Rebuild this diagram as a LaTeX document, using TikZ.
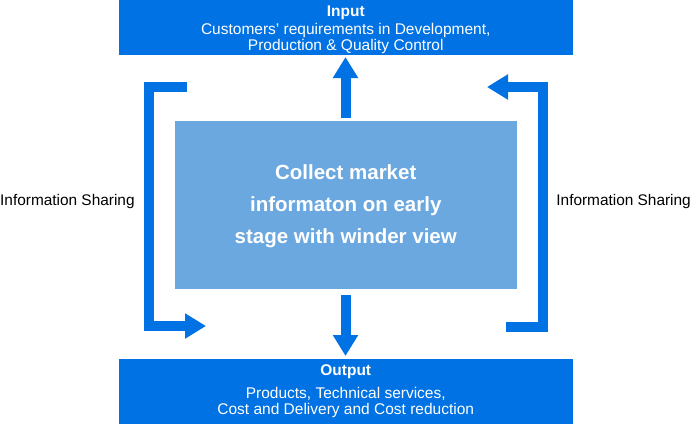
\documentclass[tikz,border=0pt]{standalone}
\usepackage{fontspec}
\setmainfont{Liberation Sans}
\usetikzlibrary{arrows.meta}
\definecolor{dblue}{RGB}{0,114,227}
\definecolor{lblue}{RGB}{108,168,224}
\tikzset{
  bluebox/.style={fill=dblue, draw=none, inner sep=0pt},
  bigarrow/.style={draw=dblue, line width=10pt, line join=miter, line cap=butt,
    -{Triangle[width=24pt,length=21pt]}},
  boxtext/.style={text=white, align=center, font=\fontsize{15.5}{16.5}\selectfont},
  sidetext/.style={text=black, font=\fontsize{15.4}{16}\selectfont, inner sep=0pt}
}
\begin{document}
\begin{tikzpicture}[x=1pt,y=-1pt]
\useasboundingbox (0,0) rectangle (691,424);
\fill[white] (0,0) rectangle (691,424);
% boxes
\fill[dblue] (118.5,0) rectangle (573,55);
\fill[dblue] (118.5,359) rectangle (573,424);
\fill[lblue] (174.5,121) rectangle (517,289);
\node[inner sep=0pt, minimum width=454.5pt, minimum height=55pt] (input) at (345.75,27.5) {};
\node[inner sep=0pt, minimum width=454.5pt, minimum height=65pt] (output) at (345.75,391.5) {};
\node[inner sep=0pt, minimum width=342.5pt, minimum height=168pt] (center) at (345.75,205) {};
% texts
\node[boxtext, font=\fontsize{15.5}{16}\selectfont\bfseries] (inT) at (345.75,13) {Input};
\node[boxtext] (inL) at (345.75,38.5) {Customers’ requirements in Development,\\Production \& Quality Control};
\node[boxtext, font=\fontsize{15.5}{16}\selectfont\bfseries] (outT) at (345.75,372) {Output};
\node[boxtext] (outL) at (345.75,402.5) {Products, Technical services,\\Cost and Delivery and Cost reduction};
\node[text=white, align=center, font=\fontsize{20.5}{32}\selectfont\bfseries] (cT) at (345.75,206) {Collect market\\informaton on early\\stage with winder view};
\node[sidetext, anchor=west] (lside) at (0,202) {Information Sharing};
\node[sidetext, anchor=east] (rside) at (691,202) {Information Sharing};
% arrows
\coordinate (upS) at (345.5,118);
\coordinate (upE) at (345.5,57);
\coordinate (dnS) at (345.5,295);
\coordinate (dnE) at (345.5,356);
\draw[bigarrow] (upS) -- (upE);
\draw[bigarrow] (dnS) -- (dnE);
\coordinate (lA) at (186.7,87);
\coordinate (lB) at (149,326);
\coordinate (lE) at (206,326);
\draw[bigarrow] (lA) -| (lB) -- (lE);
\coordinate (rA) at (505.7,326.7);
\coordinate (rB) at (543,87);
\coordinate (rE) at (487,87);
\draw[bigarrow] (rA) -| (rB) -- (rE);
\end{tikzpicture}
\end{document}
